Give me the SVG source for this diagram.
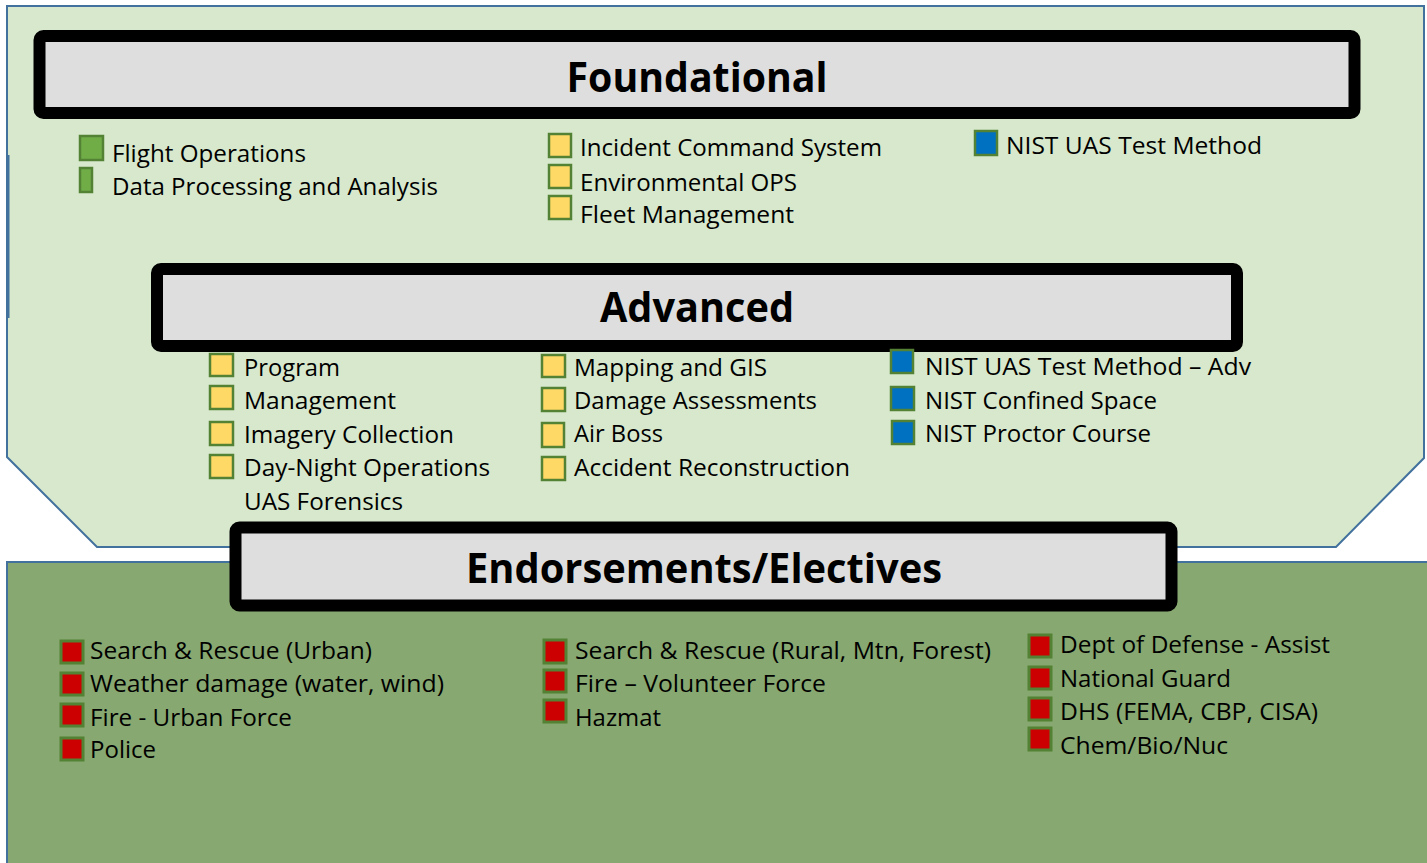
<svg xmlns="http://www.w3.org/2000/svg" width="1427" height="863" viewBox="0 0 1427 863">
<style>
.t{font-family:"Open Sans","Noto Sans","Liberation Sans",sans-serif;font-size:24px;fill:#000}
.h{font-family:"Open Sans","Noto Sans","Liberation Sans",sans-serif;font-size:41px;font-weight:bold;fill:#000}
.bar{fill:#dedede;stroke:#000;stroke-width:12}
.y{fill:#ffd966;stroke:#548235;stroke-width:2.5}
.b{fill:#0070c0;stroke:#548235;stroke-width:2.5}
.r{fill:#cc0000;stroke:#548235;stroke-width:3}
.g{fill:#70ad47;stroke:#548235;stroke-width:2.5}
</style>
<rect x="0" y="0" width="1427" height="863" fill="#ffffff"/>
<g id="background">
<polygon points="7,6 1424,6 1424,458 1336,547 97,547 7,457" fill="#d7e8cc" stroke="#41719c" stroke-width="2"/>
<rect x="6" y="155" width="3.5" height="163" fill="#41719c"/>
<rect x="7" y="562" width="1422" height="304" fill="#87a870" stroke="#41719c" stroke-width="2"/>
</g>
<g id="foundational">
<rect class="bar" x="39.5" y="36" width="1315" height="77" rx="4"/>
<text class="h" x="697" y="92" text-anchor="middle" textLength="261" lengthAdjust="spacingAndGlyphs">Foundational</text>
<rect class="g" x="80" y="136" width="23" height="24"/>
<rect class="g" x="80" y="168" width="12" height="24"/>
<text class="t" x="112" y="162" textLength="194" lengthAdjust="spacingAndGlyphs">Flight Operations</text>
<text class="t" x="112" y="195" textLength="326" lengthAdjust="spacingAndGlyphs">Data Processing and Analysis</text>
<rect class="y" x="549" y="134" width="22" height="23"/>
<rect class="y" x="549" y="165" width="22" height="23"/>
<rect class="y" x="549" y="196" width="22" height="23"/>
<text class="t" x="580" y="156" textLength="302" lengthAdjust="spacingAndGlyphs">Incident Command System</text>
<text class="t" x="580" y="191" textLength="217" lengthAdjust="spacingAndGlyphs">Environmental OPS</text>
<text class="t" x="580" y="223" textLength="214" lengthAdjust="spacingAndGlyphs">Fleet Management</text>
<rect class="b" x="975" y="131" width="22" height="24"/>
<text class="t" x="1006" y="154" textLength="256" lengthAdjust="spacingAndGlyphs">NIST UAS Test Method</text>
</g>
<g id="advanced">
<rect class="bar" x="157" y="269" width="1080" height="77" rx="4"/>
<text class="h" x="697" y="322" text-anchor="middle" textLength="194" lengthAdjust="spacingAndGlyphs">Advanced</text>
<rect class="y" x="210" y="354" width="23" height="22"/>
<rect class="y" x="210" y="386" width="23" height="23"/>
<rect class="y" x="210" y="422" width="23" height="23"/>
<rect class="y" x="210" y="455" width="23" height="23"/>
<text class="t" x="244" y="376" textLength="96" lengthAdjust="spacingAndGlyphs">Program</text>
<text class="t" x="244" y="409" textLength="152" lengthAdjust="spacingAndGlyphs">Management</text>
<text class="t" x="244" y="443" textLength="210" lengthAdjust="spacingAndGlyphs">Imagery Collection</text>
<text class="t" x="244" y="476" textLength="246" lengthAdjust="spacingAndGlyphs">Day-Night Operations</text>
<text class="t" x="244" y="510" textLength="159" lengthAdjust="spacingAndGlyphs">UAS Forensics</text>
<rect class="y" x="542" y="355" width="23" height="22"/>
<rect class="y" x="542" y="388" width="23" height="23"/>
<rect class="y" x="542" y="423" width="22" height="24"/>
<rect class="y" x="542" y="457" width="23" height="23"/>
<text class="t" x="574" y="376" textLength="193" lengthAdjust="spacingAndGlyphs">Mapping and GIS</text>
<text class="t" x="574" y="409" textLength="243" lengthAdjust="spacingAndGlyphs">Damage Assessments</text>
<text class="t" x="574" y="442" textLength="89" lengthAdjust="spacingAndGlyphs">Air Boss</text>
<text class="t" x="574" y="476" textLength="276" lengthAdjust="spacingAndGlyphs">Accident Reconstruction</text>
<rect class="b" x="891" y="350" width="22" height="23"/>
<rect class="b" x="891" y="387" width="23" height="23"/>
<rect class="b" x="892" y="421" width="22" height="23"/>
<text class="t" x="925" y="375" textLength="326" lengthAdjust="spacingAndGlyphs">NIST UAS Test Method – Adv</text>
<text class="t" x="925" y="409" textLength="232" lengthAdjust="spacingAndGlyphs">NIST Confined Space</text>
<text class="t" x="925" y="442" textLength="226" lengthAdjust="spacingAndGlyphs">NIST Proctor Course</text>
</g>
<g id="endorsements">
<rect class="bar" x="235.5" y="527.5" width="936" height="78" rx="4"/>
<text class="h" x="704" y="583" text-anchor="middle" textLength="476" lengthAdjust="spacingAndGlyphs">Endorsements/Electives</text>
<rect class="r" x="61" y="641" width="22" height="22"/>
<rect class="r" x="61" y="673" width="22" height="22"/>
<rect class="r" x="61" y="704" width="22" height="22"/>
<rect class="r" x="61" y="738" width="22" height="22"/>
<text class="t" x="90" y="659" textLength="282" lengthAdjust="spacingAndGlyphs">Search &amp; Rescue (Urban)</text>
<text class="t" x="90" y="692" textLength="354" lengthAdjust="spacingAndGlyphs">Weather damage (water, wind)</text>
<text class="t" x="90" y="726" textLength="202" lengthAdjust="spacingAndGlyphs">Fire - Urban Force</text>
<text class="t" x="90" y="758" textLength="66" lengthAdjust="spacingAndGlyphs">Police</text>
<rect class="r" x="544" y="640" width="22" height="23"/>
<rect class="r" x="544" y="670" width="22" height="22"/>
<rect class="r" x="544" y="700" width="22" height="22"/>
<text class="t" x="575" y="659" textLength="416" lengthAdjust="spacingAndGlyphs">Search &amp; Rescue (Rural, Mtn, Forest)</text>
<text class="t" x="575" y="692" textLength="251" lengthAdjust="spacingAndGlyphs">Fire – Volunteer Force</text>
<text class="t" x="575" y="726" textLength="86" lengthAdjust="spacingAndGlyphs">Hazmat</text>
<rect class="r" x="1029" y="635" width="22" height="22"/>
<rect class="r" x="1029" y="667" width="22" height="22"/>
<rect class="r" x="1029" y="698" width="22" height="22"/>
<rect class="r" x="1029" y="728" width="22" height="22"/>
<text class="t" x="1060" y="653" textLength="270" lengthAdjust="spacingAndGlyphs">Dept of Defense - Assist</text>
<text class="t" x="1060" y="687" textLength="171" lengthAdjust="spacingAndGlyphs">National Guard</text>
<text class="t" x="1060" y="720" textLength="258" lengthAdjust="spacingAndGlyphs">DHS (FEMA, CBP, CISA)</text>
<text class="t" x="1060" y="754" textLength="168" lengthAdjust="spacingAndGlyphs">Chem/Bio/Nuc</text>
</g>
<g id="connectors"></g>
</svg>
